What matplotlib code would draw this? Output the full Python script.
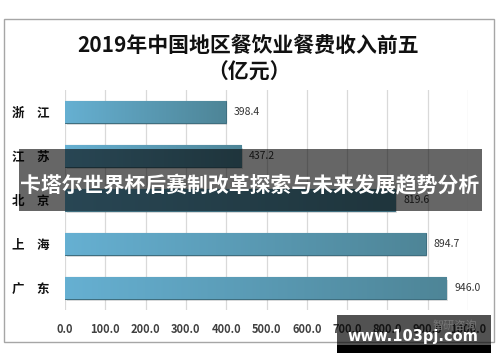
import numpy as np
import matplotlib
matplotlib.use('Agg')
import matplotlib.pyplot as plt
from matplotlib.patches import Rectangle

plt.rcParams['font.family'] = ['Noto Sans CJK SC', 'DejaVu Sans']

# data
provinces = ['浙\u3000江', '江\u3000苏', '北\u3000京', '上\u3000海', '广\u3000东']
revenue = [398.4, 437.2, 819.6, 894.7, 946.0]
xticks = np.arange(0, 1001, 100)
title = '2019年中国地区餐饮业餐费收入前五\n（亿元）'
banner = '卡塔尔世界杯后赛制改革探索与未来发展趋势分析'

fig = plt.figure(figsize=(5, 3.62), dpi=100)

# outer frame
fig.patches.append(Rectangle((0.008, 0.055), 0.98, 0.892, transform=fig.transFigure,
                             fill=False, edgecolor='#a6a6a6', linewidth=1.0))

fig.text(0.497, 0.837, title, ha='center', va='center', fontsize=15,
         fontweight='bold', color='#111111', linespacing=1.3)

ax = fig.add_axes([0.13, 0.1436, 0.806, 0.6077])
y = np.arange(len(provinces))
bars = ax.barh(y, revenue, height=0.49, color='#5b9fbd', edgecolor='#3f6f80',
               linewidth=0.8, zorder=3)

# horizontal gradient inside each bar
grad = np.linspace(0, 1, 256).reshape(1, -1)
cmap = matplotlib.colors.LinearSegmentedColormap.from_list('g', ['#66b0d2', '#4e8597'])
for b, v in zip(bars, revenue):
    # drop shadow
    ax.add_patch(Rectangle((b.get_x() + 4, b.get_y() + 0.06), b.get_width(), b.get_height(),
                           color='#000000', alpha=0.12, zorder=2, linewidth=0))
    im = ax.imshow(grad, cmap=cmap, aspect='auto', zorder=3.5,
                   extent=[0, v, b.get_y() + b.get_height(), b.get_y()])
    im.set_clip_path(b)
    ax.text(v + 20, b.get_y() + b.get_height() / 2, f'{v:.1f}', va='center', ha='left',
            fontsize=7.5, color='#333333', zorder=5)

ax.set_xlim(0, 1000)
ax.set_ylim(len(provinces) - 0.5, -0.5)
ax.set_xticks(xticks)
ax.set_xticklabels([f'{t:.1f}' for t in xticks], fontsize=8, fontweight='bold',
                   color='#404040')
ax.set_yticks(y)
ax.set_yticklabels(provinces, fontsize=9, fontweight='bold', color='#111111')
ax.tick_params(axis='both', length=0)
ax.tick_params(axis='x', pad=9)
ax.tick_params(axis='y', pad=11)
ax.grid(axis='x', color='#d9d9d9', linewidth=0.9, zorder=0)
for s in ax.spines.values():
    s.set_visible(False)

# overlay banner
fig.patches.append(Rectangle((0.038, 0.417), 0.926, 0.171, transform=fig.transFigure,
                             color='black', alpha=0.6, linewidth=0, zorder=10))
fig.text(0.5, 0.486, banner, ha='center', va='center', fontsize=15,
         fontweight='bold', color='white', zorder=11)

# watermark
fig.patches.append(Rectangle((0.674, 0.047), 0.308, 0.083, transform=fig.transFigure,
                             color='black', alpha=0.68, linewidth=0, zorder=10))
fig.patches.append(Rectangle((0.674, 0.025), 0.308, 0.022, transform=fig.transFigure,
                             color='black', linewidth=0, zorder=10))
fig.text(0.91, 0.1, '智研咨询', ha='center', va='center', fontsize=8,
         color='#777777', zorder=11)
fig.text(0.826, 0.07, 'www.103pj.com', ha='center', va='center', fontsize=10.5,
         fontweight='bold', color='white', zorder=12, family='DejaVu Sans')

fig.savefig('out.png', dpi=100)
